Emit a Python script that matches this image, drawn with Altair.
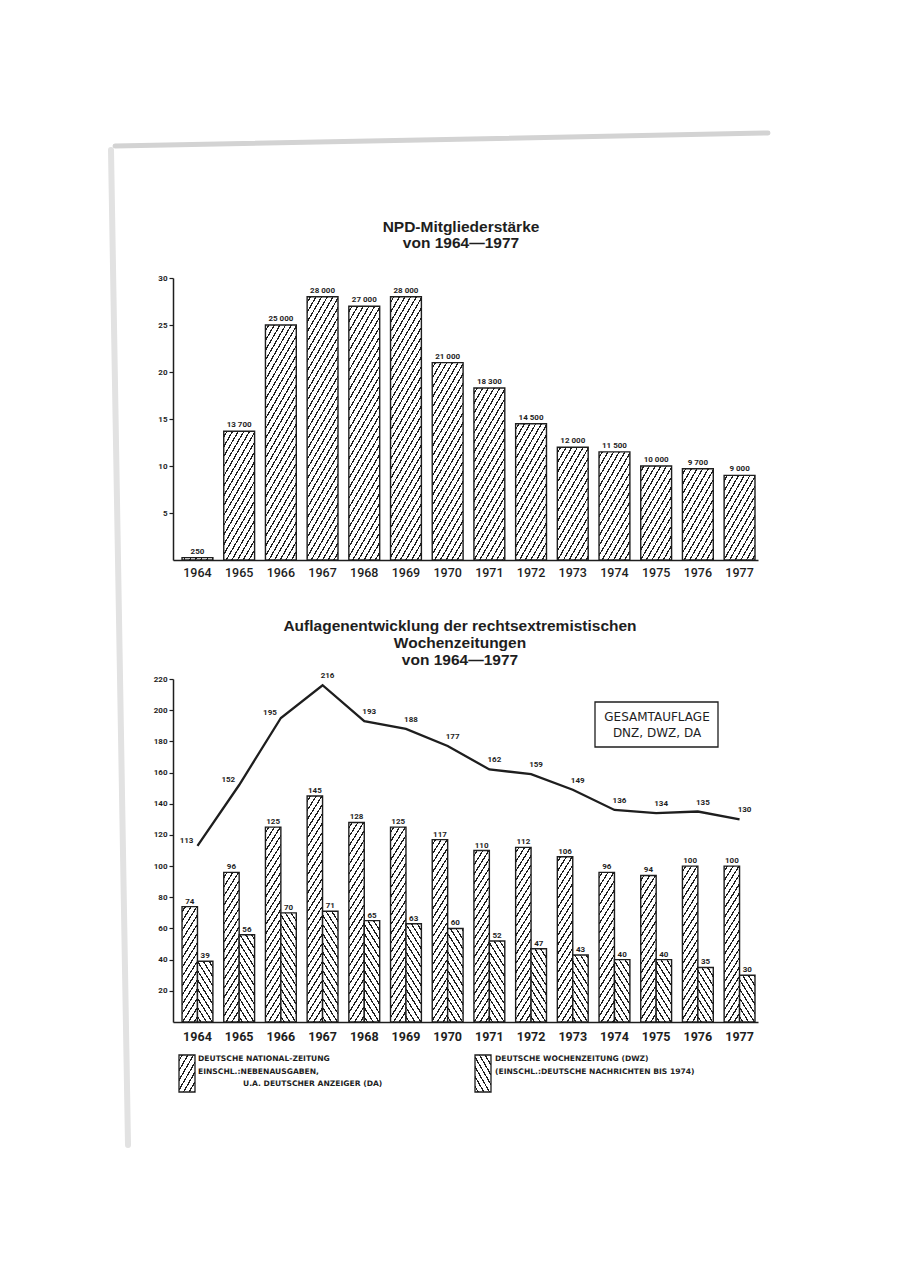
import math
import altair as alt
import pandas as pd

# ---------------- data ----------------
years = [str(y) for y in range(1964, 1978)]
npd_members = [0.25, 13.7, 25, 28, 27, 28, 21, 18.3, 14.5, 12, 11.5, 10, 9.7, 9]  # in thousands
npd_labels = ["250", "13 700", "25 000", "28 000", "27 000", "28 000", "21 000",
              "18 300", "14 500", "12 000", "11 500", "10 000", "9 700", "9 000"]
dnz = [74, 96, 125, 145, 128, 125, 117, 110, 112, 106, 96, 94, 100, 100]
dwz = [39, 56, 70, 71, 65, 63, 60, 52, 47, 43, 40, 40, 35, 30]
total = [113, 152, 195, 216, 193, 188, 177, 162, 159, 149, 136, 134, 135, 130]
top_ticks = [5, 10, 15, 20, 25, 30]
bottom_ticks = [20, 40, 60, 80, 100, 120, 140, 160, 180, 200, 220]

title_top = ["NPD-Mitgliederstärke", "von 1964—1977"]
title_bottom = ["Auflagenentwicklung der rechtsextremistischen", "Wochenzeitungen", "von 1964—1977"]
box_text = ["GESAMTAUFLAGE", "DNZ, DWZ, DA"]
legend1 = ["DEUTSCHE NATIONAL-ZEITUNG", "EINSCHL.:NEBENAUSGABEN,"]
legend1b = "U.A. DEUTSCHER ANZEIGER (DA)"
legend2 = ["DEUTSCHE WOCHENZEITUNG (DWZ)", "(EINSCHL.:DEUTSCHE NACHRICHTEN BIS 1974)"]

top_df = pd.DataFrame({"year": years, "value": npd_members, "label": npd_labels})
bar_df = pd.DataFrame({
    "year": years * 2,
    "series": ["DNZ"] * len(years) + ["DWZ"] * len(years),
    "value": dnz + dwz,
})
line_df = pd.DataFrame({"year": years, "total": total})

# ---------------- layout ----------------
W, H = 585, 1014
INK = "#1e1e1e"
P_IN, P_OUT, ALIGN = 0.26, 0.1445, 0.75
step = W / (len(years) - P_IN + 2 * P_OUT)
bar_w = step * (1 - P_IN)
TOP_RANGE = [552, 270]
BOT_RANGE = [1014, 671]
ppu_top = (TOP_RANGE[0] - TOP_RANGE[1]) / 30
ppu_bot = (BOT_RANGE[0] - BOT_RANGE[1]) / 220

SMALL = "Roboto"
LEG = "DejaVu Sans, sans-serif"
TITLE = "Liberation Sans, Arial, sans-serif"


def hatch(w, h, kind, theta=60, period=4.9, lw=1.2):
    t = math.radians(theta)
    s, c = math.sin(t), math.cos(t)
    w = max(w, 0.5)
    h = max(h, 0.5)
    L = w * s + h * c
    k = L / (w * w * s * s + h * h * c * c)
    if kind == "/":
        x1, y1, x2, y2 = 0, 0, k * w * s, k * h * c
    else:
        x1, y1, x2, y2 = 0, 1, k * w * s, 1 - k * h * c
    stops = [{"offset": 0, "color": "white"}]
    pos = period * 0.45
    while pos < L:
        a = round(pos / L, 5)
        b = round(min((pos + lw) / L, 1), 5)
        stops += [{"offset": a, "color": "white"}, {"offset": a, "color": INK},
                  {"offset": b, "color": INK}, {"offset": b, "color": "white"}]
        pos += period
    stops.append({"offset": 1, "color": "white"})
    return {"gradient": "linear", "x1": round(x1, 5), "y1": round(y1, 5),
            "x2": round(x2, 5), "y2": round(y2, 5), "stops": stops}


xs = alt.Scale(domain=years, paddingInner=P_IN, paddingOuter=P_OUT, align=ALIGN)

ax_top = alt.Axis(orient="bottom", offset=-(H - TOP_RANGE[0]), title=None, ticks=False,
                  labelFont=SMALL, labelFontSize=12.5, labelFontWeight=500, labelColor=INK,
                  labelPadding=6, labelAngle=0, domainColor=INK, domainWidth=1.5)
ax_bot = alt.Axis(orient="bottom", title=None, ticks=False, labelFont=SMALL,
                  labelFontSize=12.5, labelFontWeight="bold", labelColor=INK,
                  labelPadding=8, labelAngle=0, domainColor=INK, domainWidth=1.5)


def yaxis(vals):
    return alt.Axis(orient="left", values=vals, title=None, grid=False, tickSize=4,
                    tickColor=INK, tickWidth=1.2, domainColor=INK, domainWidth=1.5,
                    labelFont=SMALL, labelFontSize=8, labelFontWeight="bold",
                    labelColor=INK, labelPadding=2)


X_top = alt.X("year:N", scale=xs, axis=ax_top)
Y_top = alt.Y("value:Q", scale=alt.Scale(domain=[0, 30], range=TOP_RANGE), axis=yaxis(top_ticks))

top_fill = {
    "condition": [
        {"test": f"datum.year === '{y}'", "value": hatch(bar_w, v * ppu_top, "/")}
        for y, v in zip(years, npd_members)
    ],
    "value": "white",
}

top_bars = alt.Chart(top_df).mark_bar(stroke=INK, strokeWidth=1.4).encode(
    x=X_top, y=Y_top, fill=top_fill)
top_text = alt.Chart(top_df).mark_text(
    font=SMALL, fontSize=8, fontWeight="bold", color=INK, baseline="alphabetic", dy=-4
).encode(x=X_top, y=Y_top, text="label:N")
top_layer = alt.layer(top_bars, top_text)

# bottom chart
X_bot = alt.X("year:N", scale=xs, axis=ax_bot)
Y_bot = alt.Y("value:Q", scale=alt.Scale(domain=[0, 220], range=BOT_RANGE), axis=yaxis(bottom_ticks))
XO = alt.XOffset("series:N", scale=alt.Scale(domain=["DNZ", "DWZ"], paddingInner=0, paddingOuter=0))

sub_w = bar_w / 2
bot_cond = []
for y, a, b in zip(years, dnz, dwz):
    bot_cond.append({"test": f"datum.year === '{y}' && datum.series === 'DNZ'",
                     "value": hatch(sub_w, a * ppu_bot, "/", theta=58)})
    bot_cond.append({"test": f"datum.year === '{y}' && datum.series === 'DWZ'",
                     "value": hatch(sub_w, b * ppu_bot, "\\", theta=58)})
bot_fill = {"condition": bot_cond, "value": "white"}

bot_bars = alt.Chart(bar_df).mark_bar(stroke=INK, strokeWidth=1.4).encode(
    x=X_bot, xOffset=XO, y=Y_bot, fill=bot_fill)
bot_text = alt.Chart(bar_df).mark_text(
    font=SMALL, fontSize=8, fontWeight="bold", color=INK, baseline="alphabetic", dy=-3
).encode(x=X_bot, xOffset=XO, y=Y_bot, text="value:Q")

Y_line = alt.Y("total:Q", scale=alt.Scale(domain=[0, 220], range=BOT_RANGE), axis=yaxis(bottom_ticks))
line = alt.Chart(line_df).mark_line(color=INK, strokeWidth=2.3).encode(x=X_bot, y=Y_line)
rising = ["1964", "1965", "1966"]
line_lab1 = alt.Chart(line_df).transform_filter(
    alt.FieldOneOfPredicate(field="year", oneOf=rising)
).mark_text(font=SMALL, fontSize=8, fontWeight="bold", color=INK, align="right",
            baseline="middle", dx=-4, dy=-5).encode(x=X_bot, y=Y_line, text="total:Q")
line_lab2 = alt.Chart(line_df).transform_filter(
    {"not": alt.FieldOneOfPredicate(field="year", oneOf=rising)}
).mark_text(font=SMALL, fontSize=8, fontWeight="bold", color=INK, align="center",
            baseline="alphabetic", dx=5, dy=-7).encode(x=X_bot, y=Y_line, text="total:Q")

bottom_layer = alt.layer(bot_bars, bot_text, line, line_lab1, line_lab2)

# ---------------- annotations ----------------
one = alt.Data(values=[{"a": 1}])


def text_at(txt, x, y, size, font, weight="normal", align="center", lh=None, baseline="alphabetic"):
    kw = dict(text=txt, font=font, fontSize=size, fontWeight=weight, color=INK,
              align=align, baseline=baseline)
    if lh:
        kw["lineHeight"] = lh
    return alt.Chart(one).mark_text(**kw).encode(x=alt.value(x), y=alt.value(y))


t1 = text_at(title_top, 288, 224, 15.5, TITLE, "bold", lh=16)
t2 = text_at(title_bottom, 287, 623, 15.5, TITLE, "bold", lh=17)

box = alt.Chart(one).mark_rect(fillOpacity=0, stroke=INK, strokeWidth=1.3).encode(
    x=alt.value(422), x2=alt.value(545), y=alt.value(694), y2=alt.value(739))
box_t = text_at(box_text, 484, 713, 12, "DejaVu Sans, sans-serif", lh=16)

sw1 = alt.Chart(one).mark_rect(stroke=INK, strokeWidth=1.3, fill=hatch(16, 37, "/", theta=60)).encode(
    x=alt.value(6), x2=alt.value(22), y=alt.value(1047), y2=alt.value(1084))
sw2 = alt.Chart(one).mark_rect(stroke=INK, strokeWidth=1.3, fill=hatch(16, 37, "\\", theta=60)).encode(
    x=alt.value(302), x2=alt.value(318), y=alt.value(1047), y2=alt.value(1084))
lg1 = text_at(legend1, 25, 1051, 7.6, LEG, "bold", align="left", lh=12.5, baseline="middle")
lg1b = text_at(legend1b, 70, 1076, 7.6, LEG, "bold", align="left", baseline="middle")
lg2 = text_at(legend2, 322, 1051, 7.6, LEG, "bold", align="left", lh=12.5, baseline="middle")

edge_top = alt.Chart(one).mark_rule(color="#d3d3d3", strokeWidth=5, strokeCap="round").encode(
    x=alt.value(-58), y=alt.value(138), x2=alt.value(595), y2=alt.value(125))
edge_left = alt.Chart(one).mark_rule(color="#e2e2e2", strokeWidth=6, strokeCap="round").encode(
    x=alt.value(-62), y=alt.value(142), x2=alt.value(-45), y2=alt.value(1137))

chart = alt.layer(
    edge_top, edge_left, top_layer, bottom_layer, t1, t2, box, box_t, sw1, sw2, lg1, lg1b, lg2
).resolve_scale(x="independent", y="independent").properties(
    width=W, height=H,
    autosize=alt.AutoSizeParams(type="none"),
    padding={"left": 165, "top": 0, "right": 110, "bottom": 150},
    background="white",
).configure_view(strokeWidth=0)

chart.save("out.html", embed_options={"renderer": "svg", "actions": False})
